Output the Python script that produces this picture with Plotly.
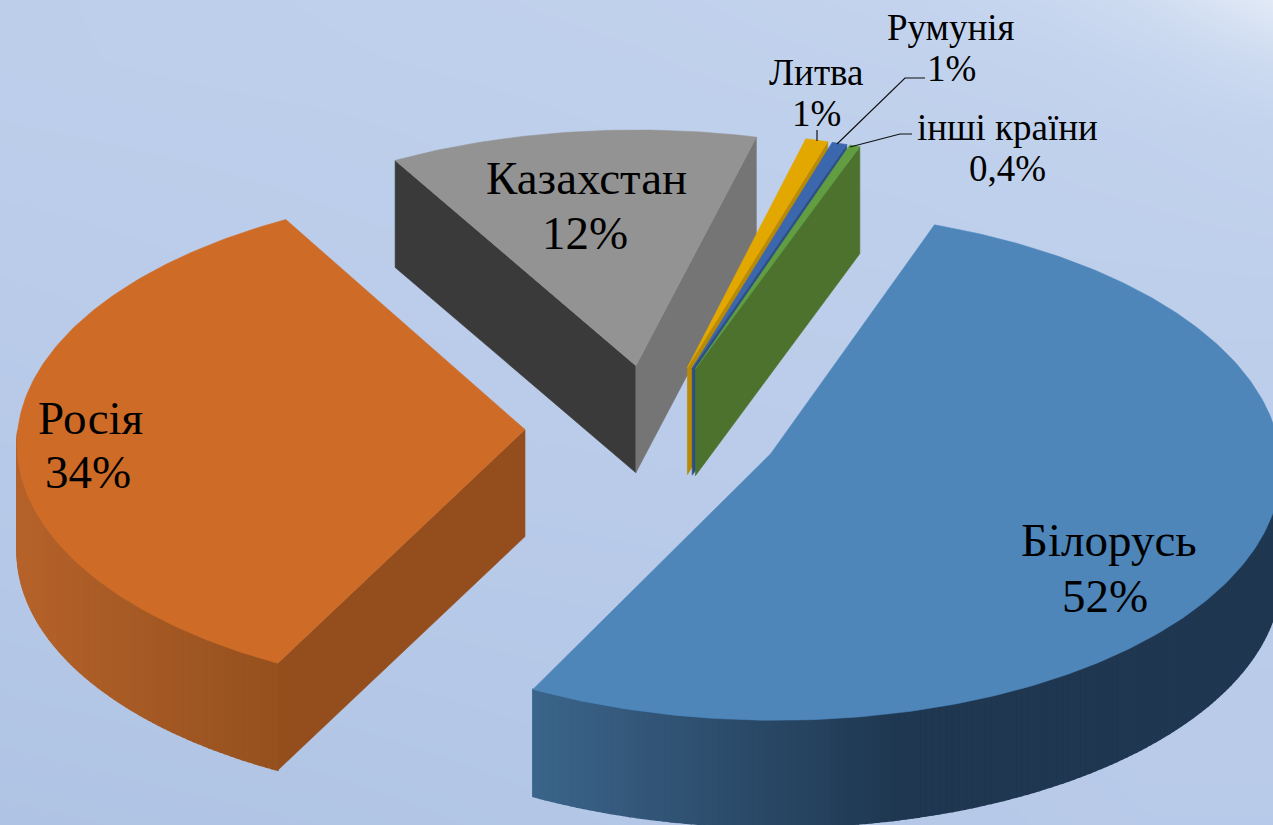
import math
import plotly.graph_objects as go

# ---------- data ----------
countries = ["Білорусь", "Росія", "Казахстан", "Литва", "Румунія", "інші країни"]
shares = [51.95, 34.1, 12.35, 0.75, 0.5, 0.35]
share_labels = ["52%", "34%", "12%", "1%", "1%", "0,4%"]
top_colors = ["#4E86BA", "#CE6B27", "#939393", "#E3A800", "#3A67AE", "#629D41"]
cut_colors = ["#1F3750", "#944E1E", "#3A3A3A", "#B98A05", "#2C4F87", "#4C722E"]
end_cut_colors = ["#1F3750", "#944E1E", "#757575", "#B98A05", "#2C4F87", "#4C722E"]
wall_left = ["#3B648A", "#B5622A", "#3A3A3A", "#B98A05", "#2C4F87", "#4C722E"]
wall_right = ["#1F3750", "#94501E", "#757575", "#B98A05", "#2C4F87", "#4C722E"]
wall_x_span = [(535, 900), (20, 283), (0, 1), (0, 1), (0, 1), (0, 1)]
draw_order = [2, 3, 4, 5, 1, 0]

# label texts: position on the canvas (name line, then value line)
name_x = [1109, 90, 586, 816, 951, 1007]
name_y = [540, 418, 178, 72, 27, 127]
value_x = [1105, 88, 585, 816, 951, 1007]
value_y = [596, 472, 233, 113, 68, 168]
label_size = [47, 47, 47, 37, 37, 37]

# background tones, row by row (top to bottom), 0 = darkest, 1 = lightest
bg_x = [0, 320, 640, 900, 1050, 1150, 1273]
bg_y = [0, 60, 130, 300, 550, 825]
bg_z = [
    [0.30, 0.34, 0.38, 0.44, 0.55, 0.70, 1.00],
    [0.30, 0.33, 0.36, 0.40, 0.44, 0.52, 0.68],
    [0.28, 0.30, 0.34, 0.36, 0.38, 0.40, 0.44],
    [0.22, 0.26, 0.28, 0.30, 0.32, 0.32, 0.32],
    [0.14, 0.18, 0.20, 0.22, 0.24, 0.25, 0.25],
    [0.00, 0.04, 0.10, 0.14, 0.18, 0.20, 0.20],
]

# leader lines from the small slices to their labels
leader_x = [[817, 817], [837, 905, 925], [850, 900, 912]]
leader_y = [[130, 141], [144, 78, 78], [147, 134, 134]]

# ---------- view of the tilted pie ----------
WIDTH, HEIGHT = 1273, 825
CX, CY = 653, 428
RADIUS = 507
TILT = 0.497
PERSP = 0.00009
DEPTH = 107
PULL = 128
START_DEG = 20.2


def project(X, Y, lift=0.0):
    w = 1 + PERSP * Y
    return CX + X / w, CY - TILT * Y / w + lift


def hex_rgb(h):
    return tuple(int(h[i:i + 2], 16) for i in (1, 3, 5))


def mix(a, b, t):
    t = max(0.0, min(1.0, t))
    ca, cb = hex_rgb(a), hex_rgb(b)
    return "rgb(%d,%d,%d)" % tuple(round(p + (q - p) * t) for p, q in zip(ca, cb))


fig = go.Figure()
fig.add_trace(go.Heatmap(
    x=bg_x, y=bg_y, z=bg_z, zsmooth="best", showscale=False, hoverinfo="skip",
    zmin=0, zmax=1, colorscale=[[0, "#AFC3E4"], [0.35, "#BFD0EC"], [0.7, "#CFDCF1"], [1, "#E2EAF6"]],
))


def poly(xs, ys, color, width=0.6):
    fig.add_trace(go.Scatter(
        x=list(xs) + [xs[0]], y=list(ys) + [ys[0]], mode="lines", fill="toself",
        fillcolor=color, line=dict(color=color, width=width), hoverinfo="skip", showlegend=False,
    ))


total = sum(shares)
spans = []
angle = START_DEG
for value in shares:
    spans.append((angle, angle + value / total * 360))
    angle = spans[-1][1]


def rim(i, a):
    start, end = spans[i]
    mid = math.radians((start + end) / 2)
    ox, oy = PULL * math.sin(mid), PULL * math.cos(mid)
    r = math.radians(a)
    return ox + RADIUS * math.sin(r), oy + RADIUS * math.cos(r), ox, oy


for i in draw_order:
    start, end = spans[i]
    n = max(2, int((end - start) / 0.75))
    angles = [start + (end - start) * j / n for j in range(n + 1)]
    pts = [rim(i, a) for a in angles]
    ox, oy = pts[0][2], pts[0][3]
    apex = project(ox, oy)
    apex_low = project(ox, oy, DEPTH)

    # cut faces that turn towards the viewer
    if math.sin(math.radians(start)) < 0:
        p, q = project(pts[0][0], pts[0][1]), project(pts[0][0], pts[0][1], DEPTH)
        poly([apex[0], p[0], q[0], apex_low[0]], [apex[1], p[1], q[1], apex_low[1]], cut_colors[i])
    if math.sin(math.radians(end)) > 0:
        p, q = project(pts[-1][0], pts[-1][1]), project(pts[-1][0], pts[-1][1], DEPTH)
        poly([apex[0], p[0], q[0], apex_low[0]], [apex[1], p[1], q[1], apex_low[1]], end_cut_colors[i])

    # rim wall, shaded strip by strip
    x0, x1 = wall_x_span[i]
    for a, b in zip(angles[:-1], angles[1:]):
        if math.cos(math.radians((a + b) / 2)) > 0:
            continue
        pa, pb = rim(i, a), rim(i, b)
        t1, t2 = project(pa[0], pa[1]), project(pb[0], pb[1])
        b1, b2 = project(pa[0], pa[1], DEPTH), project(pb[0], pb[1], DEPTH)
        t = ((t1[0] + t2[0]) / 2 - x0) / (x1 - x0)
        poly([t1[0], t2[0], b2[0], b1[0]], [t1[1], t2[1], b2[1], b1[1]],
             mix(wall_left[i], wall_right[i], t), width=1.5)

    # top face
    top = [project(p[0], p[1]) for p in pts]
    poly([apex[0]] + [p[0] for p in top], [apex[1]] + [p[1] for p in top], top_colors[i])

for xs, ys in zip(leader_x, leader_y):
    fig.add_trace(go.Scatter(x=xs, y=ys, mode="lines", line=dict(color="#111111", width=1.2),
                             hoverinfo="skip", showlegend=False))

for i, name in enumerate(countries):
    for x, y, text in ((name_x[i], name_y[i], name), (value_x[i], value_y[i], share_labels[i])):
        fig.add_annotation(
            x=x, y=y, text=text, showarrow=False,
            font=dict(family="Liberation Serif", size=label_size[i], color="#000000"),
            xanchor="center", yanchor="middle", align="center",
        )

fig.update_layout(
    width=WIDTH, height=HEIGHT, margin=dict(l=0, r=0, t=0, b=0), showlegend=False,
    paper_bgcolor="#BFD0EC", plot_bgcolor="#BFD0EC",
    xaxis=dict(range=[0, WIDTH], visible=False, fixedrange=True),
    yaxis=dict(range=[HEIGHT, 0], visible=False, fixedrange=True),
)
fig.write_html("out.html", config={"displayModeBar": False},
               post_script="document.body.style.margin='0';document.body.style.overflow='hidden';")
